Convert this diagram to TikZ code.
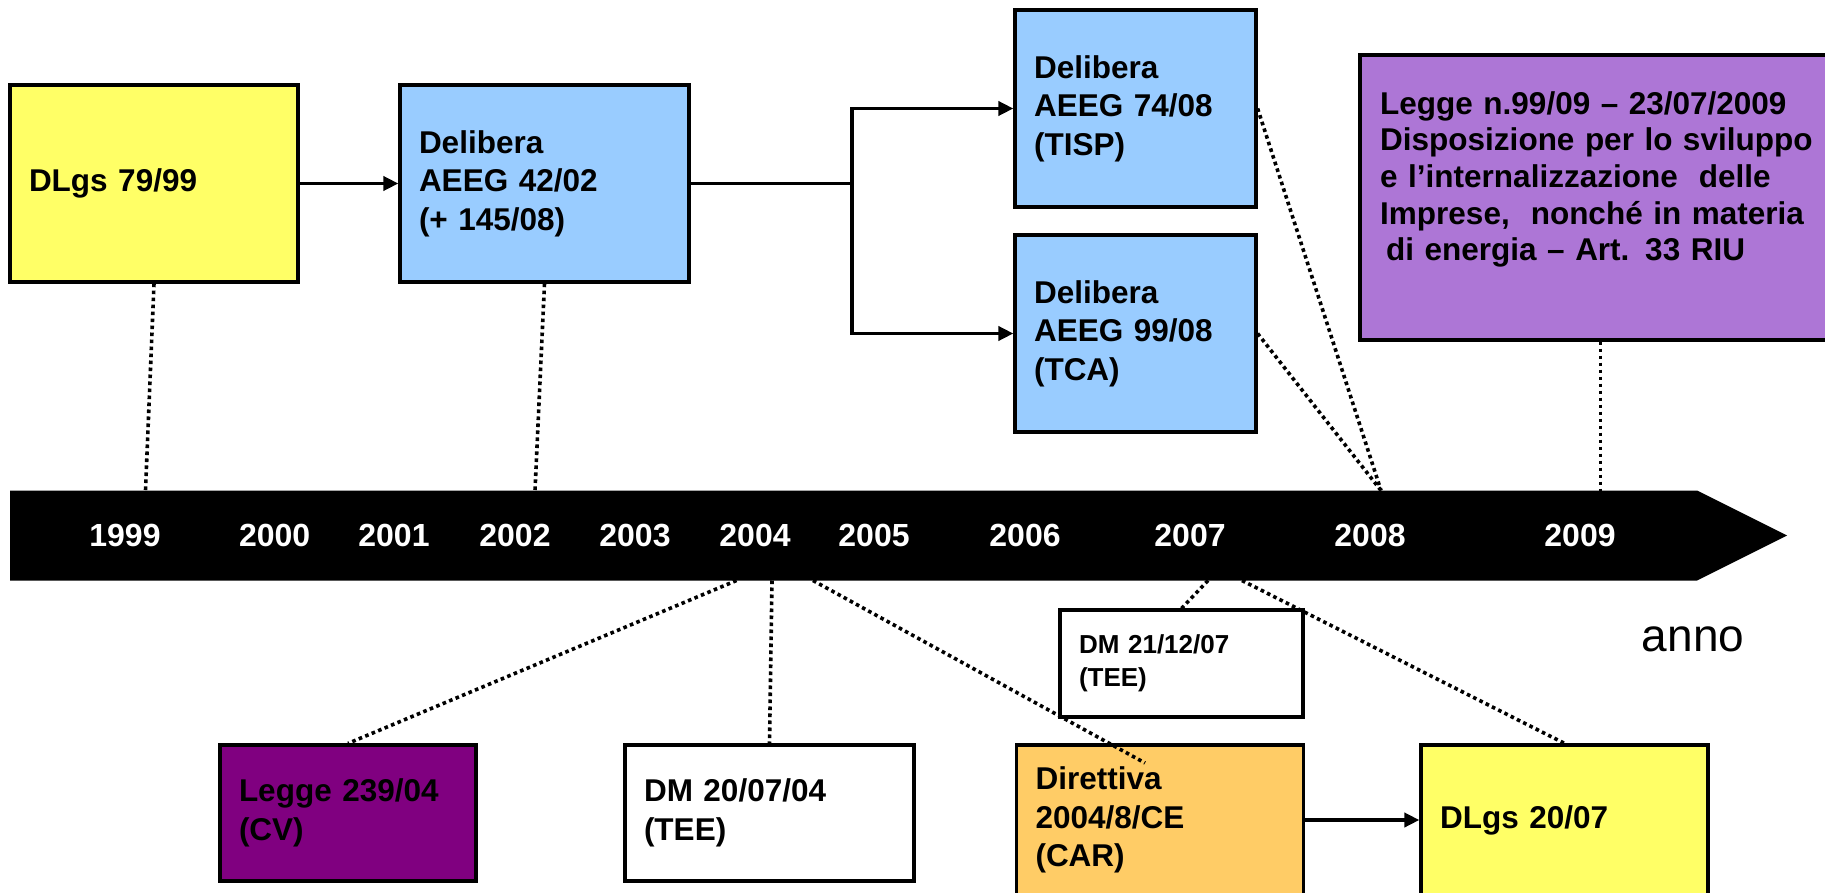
\documentclass[tikz,border=0pt]{standalone}
\usepackage{fontspec}
\setmainfont{Liberation Sans}
\usetikzlibrary{arrows.meta}

\definecolor{boxyellow}{HTML}{FFFF66}
\definecolor{boxblue}{HTML}{99CCFF}
\definecolor{boxlilac}{HTML}{AD76D6}
\definecolor{boxplum}{HTML}{800080}
\definecolor{boxorange}{HTML}{FFCC66}

\begin{document}
\begin{tikzpicture}[x=1pt,y=-1pt,
  evbox/.style={draw=black, line width=3.2pt, inner xsep=19pt, inner ysep=0pt,
    align=left, font=\bfseries\fontsize{31.5}{38.5}\selectfont},
  smallbox/.style={evbox, font=\bfseries\fontsize{26}{33}\selectfont},
  yearlbl/.style={text=white, font=\bfseries\fontsize{32}{36}\selectfont, inner sep=0pt},
  arr/.style={line width=3.6pt, -{Triangle[length=15pt,width=14pt]}},
  dotline/.style={line width=3.6pt, dash pattern=on 3.6pt off 3.4pt},
]
\useasboundingbox (0,0) rectangle (1825,893);

% time axis
\fill[black] (10,490.5) -- (1697,490.5) -- (1787,535.5) -- (1697,580.5) -- (10,580.5) -- cycle;
\foreach \yr/\xx in {1999/125,2000/274.6,2001/394,2002/515,2003/635,2004/755,2005/874,2006/1025,2007/1190,2008/1370,2009/1580}
  \node[yearlbl] (y\yr) at (\xx,535.5) {\yr};

% anchor points on the axis
\coordinate (t99) at (145.5,490.5);
\coordinate (t02) at (535,490.5);
\coordinate (t08) at (1381,490.5);
\coordinate (t09) at (1600.5,490.5);
\coordinate (b04a) at (736.5,580.5);
\coordinate (b04b) at (772,580.5);
\coordinate (b04c) at (813,580.5);
\coordinate (b07a) at (1208,580.5);
\coordinate (b07b) at (1242,580.5);
\coordinate (dirend) at (1145,763);

% upper events
\node[evbox, fill=boxyellow, text width=250pt, minimum height=197pt] (dlgs79) at (154,183.5) {DLgs 79/99};
\node[evbox, fill=boxblue, text width=251pt, minimum height=197pt] (del42) at (544.5,183.5)
  {Delibera\\AEEG 42/02\\(+ 145/08)};
\node[evbox, fill=boxblue, text width=203pt, minimum height=197pt] (tisp) at (1135.5,108.5)
  {Delibera\\AEEG 74/08\\(TISP)};
\node[evbox, fill=boxblue, text width=203pt, minimum height=197pt] (tca) at (1135.5,333.5)
  {Delibera\\AEEG 99/08\\(TCA)};
\node[draw=black, line width=3.2pt, fill=boxlilac, minimum width=470pt, minimum height=285pt,
  inner sep=0pt] (legge99) at (1595,197.5) {};
\node[anchor=north west, inner xsep=19pt, inner ysep=0pt, align=left, text width=440pt,
  font=\bfseries\fontsize{31.5}{36.7}\selectfont] (legge99txt) at (1361,91)
  {Legge n.99/09 – 23/07/2009\\Disposizione per lo sviluppo\\e l’internalizzazione\ \ delle\\Imprese,\ \ nonché in materia\\\hspace*{6pt}di energia – Art. 33 RIU};

% lower events
\node[evbox, fill=boxplum, text width=218pt, minimum height=136pt] (legge239) at (348,813)
  {Legge 239/04\\(CV)};
\node[evbox, fill=white, text width=251pt, minimum height=136pt] (dm2004) at (769.5,813)
  {DM 20/07/04\\(TEE)};
\node[smallbox, fill=white, text width=205pt, minimum height=107pt] (dm2007) at (1181.5,663.5)
  {DM 21/12/07\\(TEE)};
\node[evbox, fill=boxorange, text width=249pt, minimum height=150pt] (dir) at (1160,820)
  {Direttiva\\2004/8/CE\\(CAR)};
\node[evbox, fill=boxyellow, text width=249pt, minimum height=150pt] (dlgs07) at (1564.5,820)
  {DLgs 20/07};

\node[font=\fontsize{46}{50}\selectfont, inner sep=0pt] (anno) at (1693,639) {anno};

% derivation arrows
\coordinate (split) at (852,183.5);
\draw[arr] (dlgs79) -- (del42);
\draw[line width=3.6pt] (del42.east) -- (split);
\draw[arr] (split) |- (tisp.west);
\draw[arr] (split) |- (tca.west);
\draw[arr] (dir) -- (dlgs07);

% dotted links to the axis
\draw[dotline] (dlgs79.south) -- (t99);
\draw[dotline] (del42.south) -- (t02);
\draw[dotline] (tisp.east) -- (t08);
\draw[dotline] (tca.east) -- (t08);
\draw[dotline] (t09 |- legge99.south) -- (t09);
\draw[dotline] (b04a) -- (legge239.north);
\draw[dotline] (b04b) -- (dm2004.north);
\draw[dotline] (b04c) -- (dirend);
\draw[dotline] (b07a) -- (dm2007.north);
\draw[dotline] (b07b) -- (dlgs07.north);
\end{tikzpicture}
\end{document}
